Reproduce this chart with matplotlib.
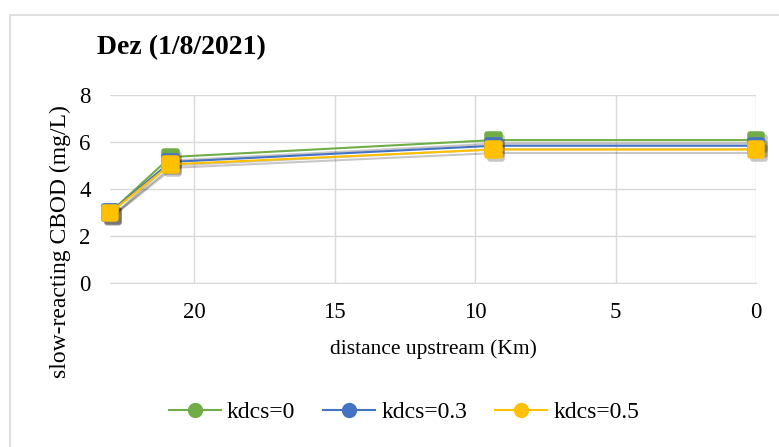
import matplotlib
matplotlib.use('Agg')
import matplotlib.pyplot as plt
import matplotlib.patheffects as pe
from matplotlib.markers import MarkerStyle
from matplotlib.patches import Rectangle

plt.rcParams.update({'font.family': ['Liberation Serif', 'DejaVu Serif']})

# data
distance = [23.0, 20.85, 9.35, 0.0]
cbod_k0 = [3.0, 5.36, 6.08, 6.08]
cbod_k03 = [3.0, 5.15, 5.84, 5.84]
cbod_k05 = [2.98, 5.05, 5.68, 5.68]
labels = ['kdcs=0', 'kdcs=0.3', 'kdcs=0.5']
colors = ['#70ad47', '#4472c4', '#ffc000']

fig = plt.figure(figsize=(7.79, 4.47), dpi=100)
# chart frame runs off the right and bottom edges
fig.patches.append(Rectangle((10/779, -0.1), 1.0, 1 - 15/447 + 0.1, transform=fig.transFigure,
                             fill=False, ec='#d9d9d9', lw=1.2))
ax = fig.add_axes([110/779, 1 - 283/447, (756 - 110)/779, (283 - 95)/447])

shadow = [pe.SimpleLineShadow(offset=(2, -2.5), shadow_color='black', alpha=0.22), pe.Normal()]
mk = MarkerStyle('s', joinstyle='round')
for ys, lab, c in zip([cbod_k0, cbod_k03, cbod_k05], labels, colors):
    ax.plot(distance, ys, color=c, lw=1.5, marker=mk, ms=9, mew=4, mfc=c, mec=c,
            label=lab, path_effects=shadow, clip_on=False)

ax.set_xlim(23, 0)
ax.set_ylim(0, 8)
ax.set_xticks([20, 15, 10, 5, 0])
ax.set_yticks([0, 2, 4, 6, 8])
ax.grid(True, color='#d9d9d9', lw=1)
ax.set_axisbelow(True)
for s in ['top', 'right', 'left']:
    ax.spines[s].set_visible(False)
ax.spines['bottom'].set_color('#d9d9d9')
ax.tick_params(length=0, labelsize=16.5, labelcolor='#000000')
ax.tick_params(axis='x', pad=14)
ax.tick_params(axis='y', pad=14)

ax.set_xlabel('distance upstream (Km)', fontsize=15.5)
ax.xaxis.set_label_coords(0.5, (283 - 349) / 188)
ax.xaxis.label.set_va('center')
ax.set_ylabel('slow-reacting CBOD (mg/L)', fontsize=17)
ax.yaxis.set_label_coords((60 - 110) / 646, (283 - 242) / 188)
ax.yaxis.label.set_va('center')
fig.text(97/779, 1 - 48/447, 'Dez (1/8/2021)', fontsize=20, fontweight='bold', va='center', ha='left')

handles = [plt.Line2D([], [], color=c, lw=1.5, marker='o', ms=10) for c in colors]
fig.legend(handles, labels, loc='center', bbox_to_anchor=(404/779, 1 - 412/447), ncol=3,
           frameon=False, fontsize=17, handlelength=2.2, columnspacing=1.2, handletextpad=0.25)

fig.savefig('out.png', dpi=100, facecolor='white')
